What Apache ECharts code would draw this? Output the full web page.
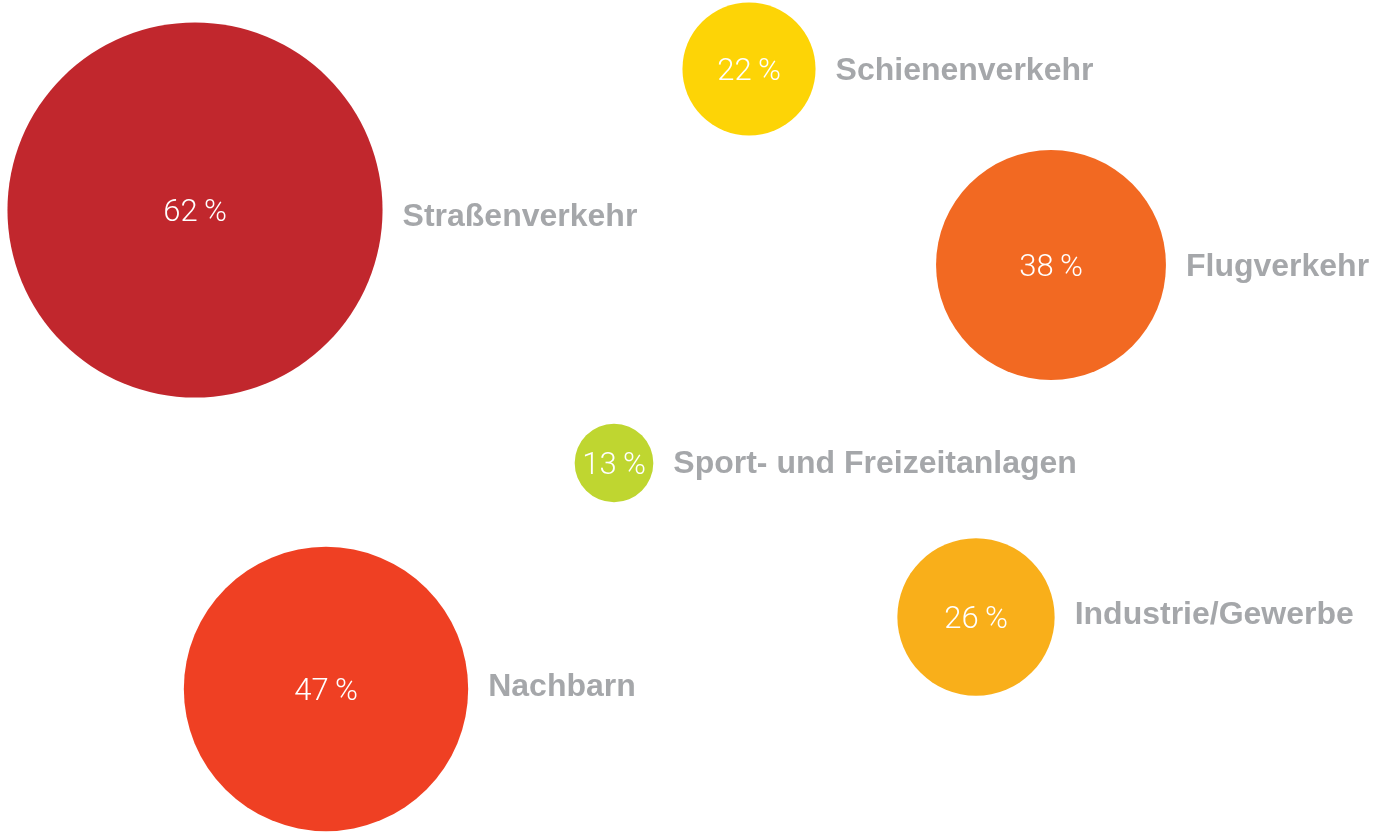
<!DOCTYPE html>
<html>
<head>
<meta charset="utf-8">
<script src="https://cdn.jsdelivr.net/npm/echarts@6/dist/echarts.min.js"></script>
<style>
  html, body { margin: 0; padding: 0; background: #fff; }
  #chart { width: 1378px; height: 834px; }
</style>
</head>
<body>
<div id="chart"></div>
<script>
// Lärmquellen: Anteil der Betroffenen
const categories = ['Straßenverkehr', 'Schienenverkehr', 'Flugverkehr', 'Sport- und Freizeitanlagen', 'Nachbarn', 'Industrie/Gewerbe'];
const shares = [62, 22, 38, 13, 47, 26];
// bubble placement on a free x/y plane
const xPos = [195, 749, 1051, 614, 326, 976];
const yPos = [210, 69, 265, 463, 689, 617];
const colors = ['#C1272D', '#FDD406', '#F26922', '#BFD630', '#EF4023', '#F9AF1A'];
// small vertical nudges of the name labels (px)
const nameNudge = [7, 2, 2, 1, -2, -2];

const chart = echarts.init(document.getElementById('chart'));

const points = categories.map(function (name, i) {
  return {
    name: name,
    value: [xPos[i], yPos[i], shares[i]],
    itemStyle: { color: colors[i], opacity: 1 }
  };
});

function bubbleSize(val) {
  return val[2] * 6.05;
}

chart.setOption({
  animation: false,
  grid: { left: 0, right: 0, top: 0, bottom: 0 },
  xAxis: { type: 'value', min: 0, max: 1378, show: false },
  yAxis: { type: 'value', min: 0, max: 834, inverse: true, show: false },
  series: [
    {
      type: 'scatter',
      symbolSize: bubbleSize,
      data: points,
      label: {
        show: true,
        position: 'inside',
        color: '#fff',
        fontFamily: 'Roboto',
        fontWeight: 300,
        fontSize: 31,
        offset: [0, 3],
        formatter: function (p) { return p.value[2] + '\u2009%'; }
      }
    },
    {
      type: 'scatter',
      symbolSize: bubbleSize,
      silent: true,
      itemStyle: { color: 'rgba(0,0,0,0)' },
      data: points.map(function (p, i) {
        return { name: p.name, value: p.value, label: { offset: [0, nameNudge[i]] } };
      }),
      label: {
        show: true,
        position: 'right',
        distance: 20,
        color: '#8f9195',
        fontFamily: 'Liberation Sans',
        fontWeight: 'bold',
        fontSize: 32,
        formatter: '{b}'
      }
    }
  ]
});
</script>
</body>
</html>
